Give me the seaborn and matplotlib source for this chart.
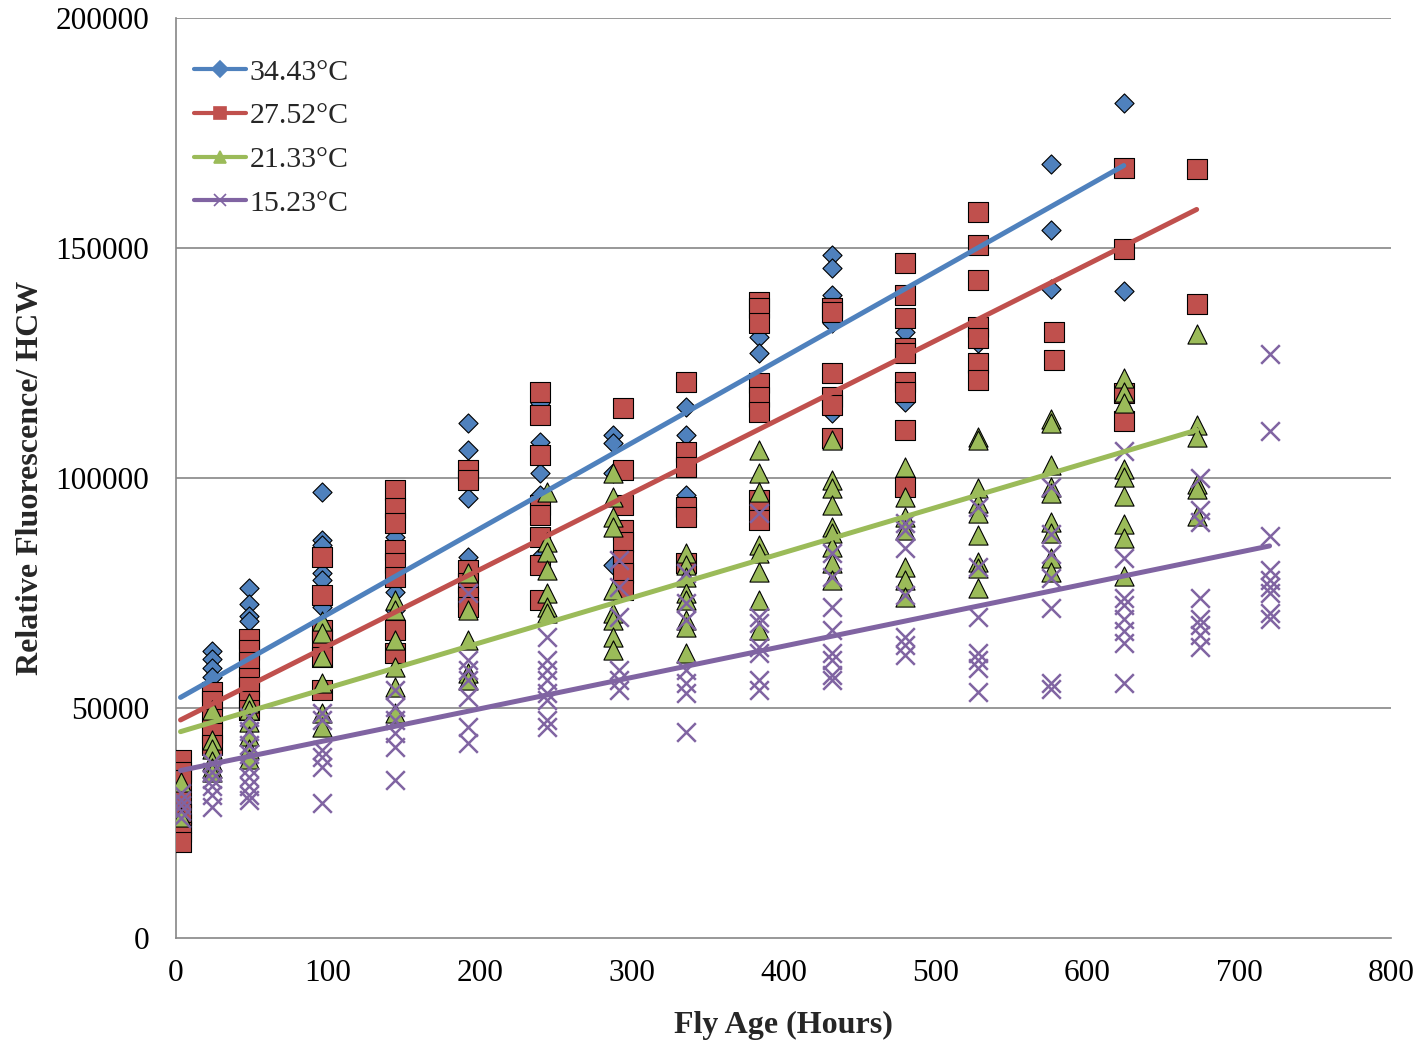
import numpy as np
import pandas as pd
import matplotlib
matplotlib.use("Agg")
import matplotlib.pyplot as plt
from matplotlib.lines import Line2D
import seaborn as sns

# ---- data: relative fluorescence per head-capsule width, by fly age ----
series_labels = ["34.43°C", "27.52°C", "21.33°C", "15.23°C"]
series_colors = ["#4F81BD", "#C0504D", "#9BBB59", "#8064A2"]
series_markers = ["D", "s", "^", "x"]

t34_hours = [3, 24, 48, 96, 144, 192, 240, 288, 336, 384, 432, 480, 528, 576, 624]
t34_values = [
    [30000, 27500],
    [62400, 60700, 58700, 56700],
    [76000, 72500, 70000, 69000],
    [97000, 86500, 85400, 79300, 77800, 72000],
    [95000, 92500, 87200, 75200, 71300],
    [112000, 106100, 95600, 82800],
    [116300, 107800, 101100, 96300, 82800],
    [109400, 107600, 101100, 81100],
    [115400, 109400, 96300],
    [135000, 130600, 127200],
    [148500, 145600, 139800, 133700, 114100],
    [131700, 116500],
    [129300],
    [168200, 154000, 141200],
    [181500, 140600],
]

t27_hours = [3, 24, 48, 96, 144, 192, 240, 294, 336, 384, 432, 480, 528, 578, 624, 672]
t27_values = [
    [38700, 36100, 34300, 30000, 27000, 25000, 23000, 20900],
    [53500, 51500, 47500, 44500, 42000],
    [65000, 62500, 60000, 56500, 54500, 51500, 49500],
    [82800, 74600, 67000, 64800, 61000, 54000],
    [97400, 93500, 90200, 84300, 81500, 78500, 67000, 62000],
    [101700, 99600, 80000, 77200, 74100, 72000],
    [118800, 113700, 105000, 94100, 92000, 87200, 81100, 73500],
    [115200, 101700, 94100, 88700, 86100, 82200, 79300, 75700],
    [120900, 105700, 102400, 93700, 91600, 81500],
    [138300, 137000, 133700, 120700, 117600, 114400, 95200, 90900],
    [137000, 136000, 122800, 117600, 115900, 108700],
    [146700, 139800, 134800, 128300, 127200, 120900, 118800, 110400, 98000],
    [157900, 150700, 143000, 132800, 130400, 125000, 121300],
    [131700, 125700],
    [167500, 149800, 118400, 112300],
    [167100, 137800],
]

t21_hours = [3, 24, 48, 96, 144, 192, 244, 288, 336, 384, 432, 480, 528, 576, 624, 672]
t21_values = [
    [33900, 26300],
    [49500, 43000, 41000, 38500, 37000, 36000],
    [51000, 49500, 47000, 44000, 41000, 39000],
    [69000, 66300, 61000, 55400, 48900, 45900],
    [73500, 71300, 64800, 58900, 54600, 48900],
    [79300, 71300, 64800, 57600, 56100],
    [97000, 86100, 83900, 80000, 75000, 72000, 70700],
    [101100, 95900, 91600, 89300, 75700, 70700, 69100, 65400, 62600],
    [83700, 81100, 78500, 75000, 73500, 69100, 67600, 62000],
    [106100, 101100, 97000, 85400, 83700, 79600, 73500, 67000],
    [108300, 99600, 97800, 94100, 89300, 88000, 85000, 81500, 77800],
    [102400, 95900, 91600, 88700, 80700, 77800, 74100],
    [108900, 108300, 97800, 94600, 92400, 87600, 81700, 80400, 76100],
    [112800, 112000, 102800, 98000, 96700, 90400, 88000, 82600, 79600],
    [121800, 118800, 116200, 102000, 100300, 96000, 90000, 87000, 78700],
    [131300, 111500, 108900, 98600, 97700, 91700],
]

t15_hours = [3, 24, 48, 96, 144, 192, 244, 292, 336, 384, 432, 480, 528, 576, 624, 674, 720]
t15_values = [
    [31500, 30000, 29000, 27500, 26000],
    [38000, 36000, 34500, 33000, 31000, 28500],
    [48000, 45000, 42000, 40000, 37000, 35000, 33000, 31000, 30000],
    [48900, 47400, 40900, 39400, 37200, 29300],
    [53900, 50200, 47400, 44600, 41500, 34300],
    [75000, 60400, 58300, 56100, 52400, 45900, 42400],
    [65400, 60400, 58300, 56100, 53300, 51700, 47400, 45900],
    [82200, 76300, 69800, 58300, 56100, 53900],
    [79300, 72800, 69100, 58300, 55400, 53300, 44800],
    [92400, 69800, 68500, 63300, 62000, 56100, 53900],
    [83700, 78500, 72000, 67000, 62000, 60400, 57200, 56100],
    [90200, 88700, 84800, 74600, 65400, 63700, 61500],
    [93700, 80700, 69800, 62000, 60400, 58700, 53500],
    [98000, 87800, 83400, 78300, 71700, 55400, 54100],
    [105900, 82600, 74000, 72300, 69300, 66700, 64100, 55500],
    [99900, 93000, 90400, 74000, 69300, 68000, 65800, 63200],
    [127000, 110200, 87400, 80100, 77900, 76200, 75000, 70600, 69300],
]

# linear trend lines (intercept, slope per hour)
trend_intercepts = [51740, 46900, 44560, 36200]
trend_slopes = [186.2, 165.9, 98.0, 68.1]

x_ticks = [0, 100, 200, 300, 400, 500, 600, 700, 800]
y_ticks = [0, 50000, 100000, 150000, 200000]


def to_long(label, hours, values):
    rows = [(label, h, v) for h, vs in zip(hours, values) for v in vs]
    return pd.DataFrame(rows, columns=["series", "hours", "value"])


frames = [
    to_long(series_labels[0], t34_hours, t34_values),
    to_long(series_labels[1], t27_hours, t27_values),
    to_long(series_labels[2], t21_hours, t21_values),
    to_long(series_labels[3], t15_hours, t15_values),
]

sns.set_theme(style="white")
plt.rcParams["font.family"] = ["Liberation Serif", "DejaVu Serif"]

fig = plt.figure(figsize=(14.26, 10.43), dpi=100)
ax = fig.add_axes([0.1234, 0.1007, 0.9755 - 0.1234, 0.9827 - 0.1007])

grid_color = "#868686"
for yv in y_ticks[1:]:
    ax.axhline(yv, color=grid_color, linewidth=1.2, zorder=0)

marker_sizes = [95, 190, 190, 180]
for i, df in enumerate(frames):
    if series_markers[i] == "x":
        sns.scatterplot(data=df, x="hours", y="value", ax=ax, marker="x",
                        color=series_colors[i], s=marker_sizes[i],
                        linewidth=1.8, zorder=2 + i, legend=False)
    else:
        sns.scatterplot(data=df, x="hours", y="value", ax=ax,
                        marker=series_markers[i], color=series_colors[i],
                        s=marker_sizes[i], edgecolor="black", linewidth=0.8,
                        zorder=2 + i, legend=False)

for i, df in enumerate(frames):
    xs = np.array([df["hours"].min(), df["hours"].max()], dtype=float)
    ys = trend_intercepts[i] + trend_slopes[i] * xs
    sns.lineplot(x=xs, y=ys, ax=ax, color=series_colors[i], linewidth=3.6,
                 solid_capstyle="round", zorder=10 + i, legend=False)

ax.set_xlim(x_ticks[0], x_ticks[-1])
ax.set_ylim(y_ticks[0], y_ticks[-1])
ax.set_xticks(x_ticks)
ax.set_yticks(y_ticks)
ax.set_xticklabels([str(v) for v in x_ticks])
ax.set_yticklabels([str(v) for v in y_ticks])
ax.tick_params(axis="both", labelsize=22.5, colors="black", length=6.5,
               width=1.2, direction="out")
ax.tick_params(axis="x", color=grid_color, pad=9)
ax.tick_params(axis="y", color=grid_color, pad=13)

for side in ["top", "right"]:
    ax.spines[side].set_visible(False)
for side in ["left", "bottom"]:
    ax.spines[side].set_color(grid_color)
    ax.spines[side].set_linewidth(1.2)

ax.set_xlabel("Fly Age (Hours)", fontsize=23, fontweight="bold", labelpad=16)
ax.set_ylabel("Relative Fluorescence/ HCW", fontsize=23, fontweight="bold",
              labelpad=7)

handles = [
    Line2D([0], [0], color=series_colors[i], linewidth=3,
           marker=series_markers[i], markersize=9 if i != 0 else 8,
           markerfacecolor=series_colors[i], markeredgecolor=series_colors[i],
           markeredgewidth=1.2)
    for i in range(4)
]
ax.legend(handles, series_labels, loc="upper left",
          bbox_to_anchor=(0.0, 0.975), frameon=False, fontsize=21.5,
          handlelength=1.75, handletextpad=0.12, labelspacing=0.56,
          borderaxespad=0.2)

fig.savefig("out.png", dpi=100)
